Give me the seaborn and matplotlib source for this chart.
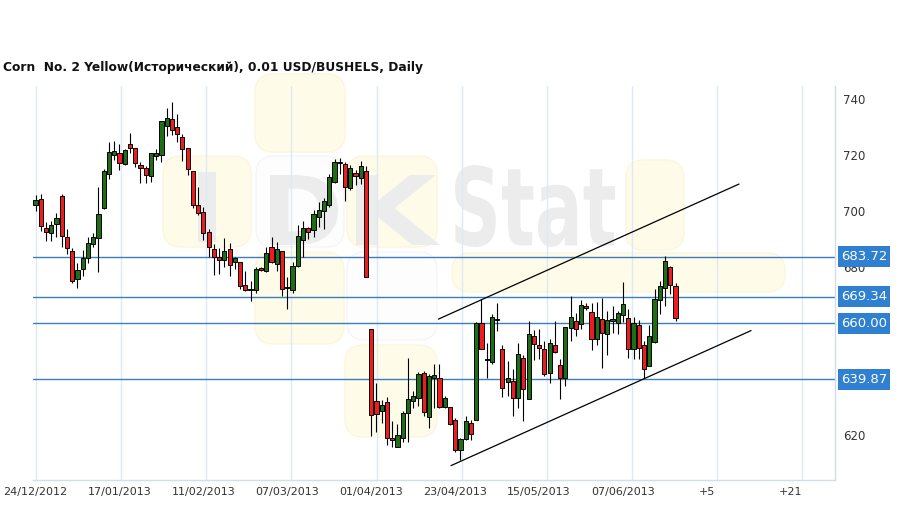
import pandas as pd
import seaborn as sns
import matplotlib.pyplot as plt
import matplotlib.transforms as mtransforms
from matplotlib.patches import Rectangle, FancyBboxPatch, PathPatch
from matplotlib.textpath import TextPath
from matplotlib.font_manager import FontProperties

TITLE = "Corn  No. 2 Yellow(Исторический), 0.01 USD/BUSHELS, Daily"

# daily OHLC, 24/12/2012 .. 21/06/2013
opens = [702.3, 704.5, 693.9, 692.1, 695.3, 705.4, 690.7, 685.6, 675.6, 679.2,
         683.2, 688.3, 690.3, 701.2, 713.4, 720.1, 720.7, 716.9, 724.0, 722.5,
         716.4, 715.3, 712.6, 719.7, 720.0, 730.5, 732.8, 730.2, 726.6, 722.6,
         714.4, 702.2, 699.6, 692.5, 686.5, 683.7, 682.5, 686.4, 681.7, 682.0,
         673.6, 671.7, 671.9, 679.6, 678.6, 687.1, 681.0, 685.6, 672.5, 671.9,
         680.5, 689.8, 693.9, 693.1, 697.8, 700.2, 702.3, 710.3, 717.1, 716.9,
         708.3, 713.8, 711.9, 714.4, 657.7, 632.1, 628.4, 631.9, 619.0, 615.8,
         619.0, 627.8, 632.2, 633.2, 642.2, 626.4, 640.4, 640.4, 630.0, 630.0,
         625.4, 614.6, 618.6, 624.2, 625.4, 660.1, 646.8, 646.1, 661.0, 650.8,
         638.8, 639.4, 633.2, 647.6, 632.9, 655.2, 652.3, 650.6, 642.2, 652.3,
         644.9, 640.4, 658.3, 660.7, 659.5, 666.1, 664.1, 654.4, 661.6, 655.9,
         660.7, 660.1, 662.9, 661.7, 650.8, 659.3, 652.1, 644.8, 653.2, 668.3,
         672.5, 679.9, 673.3]
highs = [705.8, 706.0, 696.2, 696.4, 699.3, 706.0, 693.5, 686.8, 681.3, 686.1,
         690.7, 692.3, 708.6, 715.1, 724.6, 725.1, 724.2, 722.4, 728.0, 722.7,
         717.6, 716.0, 720.8, 722.4, 732.3, 737.0, 739.0, 734.7, 727.6, 722.6,
         714.4, 708.6, 701.4, 693.6, 688.3, 687.0, 690.3, 688.5, 683.5, 682.0,
         678.7, 675.1, 680.2, 680.2, 687.1, 690.7, 688.9, 685.6, 676.3, 681.9,
         695.1, 696.6, 694.2, 700.5, 703.2, 704.8, 713.4, 718.8, 719.0, 717.6,
         716.4, 714.6, 717.8, 716.0, 657.7, 638.6, 632.6, 633.4, 624.8, 624.0,
         628.4, 647.6, 635.8, 642.4, 642.8, 641.6, 645.2, 645.5, 634.0, 630.0,
         626.0, 618.8, 626.6, 625.4, 660.5, 668.5, 653.0, 663.1, 667.3, 652.3,
         646.4, 643.4, 653.0, 648.4, 660.7, 657.5, 658.0, 653.5, 654.2, 660.7,
         647.2, 658.7, 669.7, 663.7, 668.3, 667.0, 667.3, 667.5, 669.1, 664.3,
         666.0, 664.3, 674.5, 664.9, 662.0, 661.0, 653.5, 659.2, 672.1, 675.1,
         684.1, 680.5, 674.2]
lows = [700.2, 692.8, 689.4, 689.2, 690.7, 687.3, 684.7, 674.4, 672.5, 676.9,
        681.3, 687.3, 678.1, 700.7, 711.6, 718.2, 714.6, 716.4, 720.8, 715.8,
        710.1, 710.1, 710.6, 718.2, 717.5, 726.8, 727.2, 724.8, 717.9, 713.0,
        701.2, 698.5, 689.7, 683.5, 677.1, 677.6, 679.9, 676.9, 679.5, 672.0,
        671.5, 667.9, 670.9, 678.5, 678.1, 681.3, 678.7, 669.7, 664.9, 670.9,
        679.9, 683.5, 689.9, 690.7, 694.3, 693.6, 701.6, 710.1, 713.4, 703.8,
        707.4, 709.2, 709.8, 676.3, 619.7, 621.2, 624.2, 616.4, 615.8, 615.8,
        617.6, 617.6, 629.6, 630.2, 626.6, 622.4, 629.6, 629.6, 629.6, 623.5,
        614.0, 611.1, 618.2, 618.0, 625.4, 650.6, 640.4, 645.2, 657.1, 633.7,
        633.8, 626.9, 629.6, 625.0, 632.9, 646.6, 647.0, 641.2, 638.6, 649.4,
        632.9, 637.4, 653.5, 655.3, 658.0, 664.8, 650.3, 652.0, 644.0, 648.4,
        656.5, 655.9, 660.5, 647.6, 647.0, 647.2, 640.4, 644.6, 652.7, 663.1,
        666.1, 670.3, 660.7]
closes = [704.0, 694.6, 692.5, 695.0, 697.5, 691.0, 686.7, 674.9, 678.9, 683.1,
          688.6, 690.7, 698.9, 714.2, 721.0, 721.4, 717.3, 721.8, 722.7, 717.3,
          715.4, 712.8, 720.8, 720.8, 732.3, 733.4, 729.1, 727.6, 722.3, 715.1,
          702.2, 699.3, 692.1, 687.3, 683.5, 682.5, 685.6, 680.7, 683.1, 673.3,
          671.8, 672.0, 679.3, 678.9, 684.9, 681.9, 686.5, 672.1, 672.8, 680.5,
          691.0, 693.9, 692.5, 698.9, 700.5, 703.7, 712.1, 717.6, 717.5, 708.6,
          715.5, 712.6, 716.2, 676.3, 627.1, 627.5, 630.7, 618.9, 618.1, 620.0,
          627.8, 632.8, 633.8, 641.6, 628.2, 641.0, 641.5, 630.0, 633.1, 624.0,
          614.6, 618.6, 624.8, 620.4, 660.1, 650.6, 647.1, 662.3, 661.6, 636.8,
          640.4, 633.2, 649.0, 636.4, 656.0, 652.6, 651.2, 641.8, 653.0, 649.7,
          640.4, 658.7, 662.3, 657.7, 666.5, 665.2, 654.4, 662.3, 656.3, 661.1,
          661.3, 663.5, 666.7, 650.6, 659.9, 650.9, 643.7, 655.2, 668.7, 673.3,
          682.3, 673.5, 661.9]

tick_labels = ["24/12/2012", "17/01/2013", "11/02/2013", "07/03/2013", "01/04/2013",
               "23/04/2013", "15/05/2013", "07/06/2013", "+5", "+21"]
# 640 and 660 sit under the level boxes in the original, so only these show
price_ticks = [620, 680, 700, 720, 740]
levels = [683.72, 669.34, 660.00, 639.87]

# hand-drawn trend channel (bar index, price)
upper_x = [76.8, 134.1]
upper_y = [661.4, 709.7]
lower_x = [79.2, 136.4]
lower_y = [609.0, 657.3]

W, H = 909, 509
GREEN = "#1e6e14"
RED = "#ee1c1c"
LEVEL = "#3c7dc0"
BOX = "#2f80d1"
GRID = "#dde9f4"

sns.set_theme(style="white")
plt.rcParams['font.family'] = ['DejaVu Sans']

fig = plt.figure(figsize=(W / 100, H / 100), dpi=100)
fig.patch.set_facecolor("white")


def fpx(x, y):
    return x / W, 1 - y / H


# faint watermark behind the chart
def wm_box(x0, y0, x1, y1, face, edge):
    fx, fy = fpx(x0, y1)
    p = FancyBboxPatch((fx, fy), (x1 - x0) / W, (y1 - y0) / H,
                       boxstyle="round,pad=0,rounding_size=0.02",
                       mutation_aspect=W / H,
                       transform=fig.transFigure, facecolor=face,
                       edgecolor=edge, linewidth=1.0, zorder=-2)
    fig.patches.append(p)


def wm_text(s, x0, x1, y0, y1, color="#ececec"):
    tp = TextPath((0, 0), s, size=1, prop=FontProperties(family="DejaVu Sans", weight="bold"))
    bb = tp.get_extents()
    fx0, fy1 = fpx(x0, y1)
    tr = (mtransforms.Affine2D()
          .translate(-bb.x0, -bb.y0)
          .scale((x1 - x0) / W / bb.width, (y1 - y0) / H / bb.height)
          .translate(fx0, fy1) + fig.transFigure)
    fig.patches.append(PathPatch(tp, transform=tr, facecolor=color,
                                 edgecolor="none", zorder=-1))


YEL, YEL_E = "#fefbe9", "#fdf6db"
GRY, GRY_E = "#fdfdfd", "#f5f5f5"
wm_box(255, 74, 345, 152, YEL, YEL_E)
wm_box(163, 156, 251, 247, YEL, YEL_E)
wm_box(256, 156, 344, 247, GRY, GRY_E)
wm_box(347, 156, 437, 247, YEL, YEL_E)
wm_box(255, 252, 344, 344, YEL, YEL_E)
wm_box(347, 252, 437, 340, GRY, GRY_E)
wm_box(345, 345, 437, 437, YEL, YEL_E)
wm_box(626, 160, 684, 250, YEL, YEL_E)
wm_box(452, 253, 785, 292, YEL, YEL_E)
wm_text("I", 198, 216, 172, 242)
wm_text("D", 270, 338, 175, 245)
wm_text("K", 356, 440, 175, 245)
wm_text("Stat", 455, 615, 165, 247)

ax = fig.add_axes([33 / W, 29 / H, 802 / W, 394 / H])
ax.patch.set_alpha(0)

df = pd.DataFrame({"open": opens, "high": highs, "low": lows, "close": closes})
df["idx"] = range(len(df))
df["up"] = df["close"] >= df["open"]
df["body_lo"] = df[["open", "close"]].min(axis=1)
df["body_h"] = (df["close"] - df["open"]).abs().clip(lower=0.45)

# gridlines (the chart spaces them slightly wider than 16 bars)
for k in range(10):
    ax.axvline(0.095 + 16.232 * k, color=GRID, lw=1.0, zorder=1)

for lv in levels:
    ax.axhline(lv, color=LEVEL, lw=1.0, zorder=2)

ax.vlines(df["idx"], df["low"], df["high"], color="black", lw=0.8, zorder=3)
ax.bar(df["idx"], df["body_h"], bottom=df["body_lo"], width=0.8,
       color=[GREEN if u else RED for u in df["up"]],
       edgecolor="black", linewidth=0.7, zorder=4)

sns.lineplot(x=upper_x, y=upper_y, ax=ax, color="black", lw=0.9, zorder=5)
sns.lineplot(x=lower_x, y=lower_y, ax=ax, color="black", lw=0.9, zorder=5)

ax.set_xlim(-0.477, 152.4)
ax.set_ylim(603.86, 744.77)

ax.set_xticks(range(0, 16 * len(tick_labels), 16))
ax.set_xticklabels(tick_labels)
ax.yaxis.tick_right()
ax.set_yticks(price_ticks)
ax.tick_params(axis="x", length=0, pad=5, labelsize=8, labelcolor="#333333")
ax.tick_params(axis="y", length=0, pad=6, labelsize=8.5, labelcolor="#333333")
ax.set_xlabel("")
ax.set_ylabel("")

for side in ["left", "top"]:
    ax.spines[side].set_visible(False)
for side in ["right", "bottom"]:
    ax.spines[side].set_color("#cfdfee")
    ax.spines[side].set_linewidth(1.0)

# price level labels on the right
trans = mtransforms.blended_transform_factory(ax.transAxes, ax.transData)
px_per_unit = 394 / (744.77 - 603.86)
for lv in levels:
    ax.add_patch(Rectangle((1 + 3 / 802, lv - 10.5 / px_per_unit), 52 / 802, 21 / px_per_unit,
                           transform=trans, facecolor=BOX, edgecolor="none",
                           clip_on=False, zorder=6))
    ax.text(1 + 29 / 802, lv, f"{lv:.2f}", transform=trans, color="white",
            fontsize=9.5, ha="center", va="center", zorder=7, clip_on=False)

fig.text(3 / W, 1 - 68 / H, TITLE, fontsize=8.8, fontweight="bold",
         ha="left", va="center", color="#111111")

fig.savefig("out.png", dpi=100)
plt.close(fig)
